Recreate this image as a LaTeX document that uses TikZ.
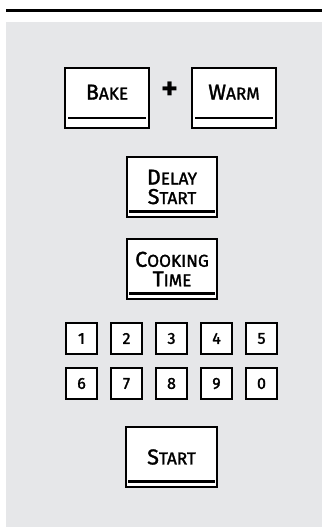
\documentclass[tikz,border=0pt]{standalone}
\usepackage{fontspec}
\setmainfont{Fira Sans}
\newfontfamily\keyfont{Fira Sans}[FakeBold=1.6]
\usetikzlibrary{positioning}
\definecolor{panelgray}{RGB}{230,231,233}

% maiuscoletto a mano: prima lettera grande, resto piccolo
\newcommand{\keycap}[2]{{\fontsize{21.5}{20}\selectfont #1}{\fontsize{17.2}{20}\selectfont #2}}

\begin{document}
\begin{tikzpicture}[x=1pt, y=-1pt,
  widekey/.style={draw, line width=2pt, fill=white, minimum width=84pt, minimum height=60pt,
    inner sep=0pt, text height=15pt, text depth=12pt, font=\keyfont},
  tallkey/.style={draw, line width=1.2pt, fill=white, minimum width=90pt, minimum height=60pt,
    inner sep=0pt, align=center, font=\keyfont\fontsize{20}{19.5}\selectfont},
  numkey/.style={draw, line width=1.2pt, fill=white, minimum size=31pt, inner sep=0pt,
    font=\keyfont\fontsize{16}{18}\selectfont},
  thinbar/.style={line width=1.6pt},
  thickbar/.style={line width=3.4pt}]

\useasboundingbox (0,0) rectangle (322,527);
\fill[panelgray] (6,22) rectangle (322,527);
\draw[line width=3pt] (6,10.5) -- (322,10.5);

% Bake + Warm
\node[widekey] (bake) at (107,98) {\keycap{B}{AKE}};
\node[widekey] (warm) at (234,98) {\keycap{W}{ARM}};
\node[font=\fontsize{32}{32}\selectfont\bfseries] (plus) at (170,91) {+};
\draw[thinbar] ([xshift=4pt,yshift=11pt]bake.south west) -- ([xshift=-4pt,yshift=11pt]bake.south east);
\draw[thinbar] ([xshift=4pt,yshift=11pt]warm.south west) -- ([xshift=-4pt,yshift=11pt]warm.south east);

% Delay Start, Cooking Time
\node[tallkey] (delay) at (172,187) {\keycap{D}{ELAY}\\\keycap{S}{TART}};
\node[tallkey] (cooking) at (172,269) {\keycap{C}{OOKING}\\\keycap{T}{IME}};
\draw[thickbar] ([xshift=3pt,yshift=6pt]delay.south west) -- ([xshift=-3pt,yshift=6pt]delay.south east);
\draw[thickbar] ([xshift=3pt,yshift=6pt]cooking.south west) -- ([xshift=-3pt,yshift=6pt]cooking.south east);

% Tasti numerici
\foreach \d [count=\i from 0] in {1,2,3,4,5}
  \node[numkey] (key\d) at (81.5+45*\i,338.5) {\d};
\foreach \d [count=\i from 0] in {6,7,8,9,0}
  \node[numkey] (key\d) at (81.5+45*\i,383.5) {\d};

% Start
\node[tallkey, minimum width=91pt] (start) at (171.5,457) {\keycap{S}{TART}};
\draw[thickbar] ([xshift=3pt,yshift=6pt]start.south west) -- ([xshift=-3pt,yshift=6pt]start.south east);

\end{tikzpicture}
\end{document}
